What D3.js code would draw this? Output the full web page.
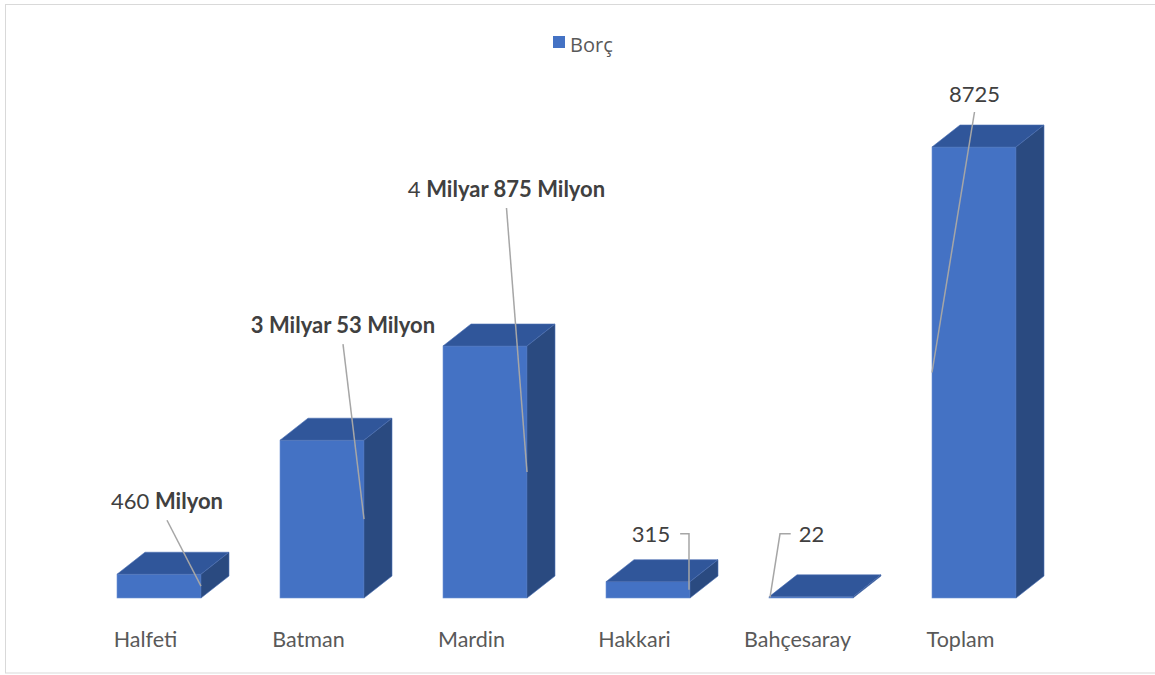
<!DOCTYPE html>
<html>
<head>
<meta charset="utf-8">
<script src="https://cdn.jsdelivr.net/npm/d3@7"></script>
<style>
  body { margin: 0; background: #fff; }
  text { font-family: Lato, "Noto Sans", sans-serif; }
</style>
</head>
<body>
<div id="vis"></div>
<script>
var W = 1155, H = 675;

// Data
var categories = ["Halfeti", "Batman", "Mardin", "Hakkari", "Bahçesaray", "Toplam"];
var values = [460, 3053, 4875, 315, 22, 8725];
// data label parts: [text, bold?]
var labelParts = [
    [["460 ", false], ["Milyon", true]],
    [["3 Milyar 53 Milyon", true]],
    [["4 ", false], ["Milyar 875 Milyon", true]],
    [["315", false]],
    [["22", false]],
    [["8725", false]]
];
var seriesName = "Borç";

// label placement relative to bar (front centre / top), leader style
var labelOffsets = [
    {dx: 8, dy: -65, leader: "right"},
    {dx: 21, dy: -107, leader: "right"},
    {dx: 21.5, dy: -149, leader: "right"},
    {dx: 3, dy: -40, leader: "elbowRight"},
    {dx: 0.5, dy: -55, leader: "elbowLeft"},
    {dx: 0.5, dy: -45, leader: "left"}
];

var depthX = 28, depthY = 22;
var front = "#4472c4", topC = "#30569a", sideC = "#2a4a80";

var svg = d3.select("#vis").append("svg")
    .attr("width", W)
    .attr("height", H);

// chart border
svg.append("rect")
    .attr("x", 5.5).attr("y", 4.5)
    .attr("width", W + 10).attr("height", 668.5)
    .attr("fill", "#fff")
    .attr("stroke", "#d9d9d9");

var x = d3.scaleBand()
    .domain(categories)
    .range([77.5, 77.5 + 6 * 163])
    .paddingInner(0.4847)
    .paddingOuter(0.24235);

var y = d3.scaleLinear()
    .domain([0, 8725])
    .range([598, 147]);

var bw = x.bandwidth();

var bars = svg.selectAll(".bar")
    .data(categories.map(function(c, i) { return {cat: c, val: values[i], i: i}; }))
    .enter().append("g")
    .attr("class", "bar");

// front face
bars.append("rect")
    .attr("x", function(d) { return x(d.cat); })
    .attr("y", function(d) { return y(d.val); })
    .attr("width", bw)
    .attr("height", function(d) { return y(0) - y(d.val); })
    .attr("fill", front)
    .attr("stroke", "#6f93d4")
    .attr("stroke-width", 0.6);

// top face
bars.append("path")
    .attr("d", function(d) {
        var x0 = x(d.cat), t = y(d.val);
        return "M" + x0 + "," + t +
            "L" + (x0 + depthX) + "," + (t - depthY) +
            "L" + (x0 + bw + depthX) + "," + (t - depthY) +
            "L" + (x0 + bw) + "," + t + "Z";
    })
    .attr("fill", topC)
    .attr("stroke", "#4a6fb3")
    .attr("stroke-width", 0.6);

// side face
bars.append("path")
    .attr("d", function(d) {
        var x1 = x(d.cat) + bw, t = y(d.val), b = y(0);
        return "M" + x1 + "," + t +
            "L" + (x1 + depthX) + "," + (t - depthY) +
            "L" + (x1 + depthX) + "," + (b - depthY) +
            "L" + x1 + "," + b + "Z";
    })
    .attr("fill", sideC)
    .attr("stroke", "#4a6fb3")
    .attr("stroke-width", 0.6);

// category labels
svg.selectAll(".cat")
    .data(categories)
    .enter().append("text")
    .attr("class", "cat")
    .attr("x", function(d) { return x(d) + bw / 2 - 13.5; })
    .attr("y", 647)
    .attr("text-anchor", "middle")
    .attr("fill", "#595959")
    .style("font-size", "21.5px")
    .text(function(d) { return d; });

// data labels + leader lines
bars.each(function(d) {
    var g = d3.select(this);
    var o = labelOffsets[d.i];
    var cx = x(d.cat) + bw / 2 + o.dx;
    var by = y(d.val) + o.dy;
    var t = g.append("text")
        .attr("x", cx)
        .attr("y", by)
        .attr("text-anchor", "middle")
        .attr("fill", "#404040")
        .style("font-size", "22px");
    labelParts[d.i].forEach(function(p) {
        t.append("tspan")
            .style("font-weight", p[1] ? "bold" : "normal")
            .text(p[0]);
    });
    var tw = t.node().getComputedTextLength();
    var midY = (y(d.val) + y(0)) / 2;
    var x0 = x(d.cat), x1 = x(d.cat) + bw;
    var pts;
    if (o.leader === "right") {
        pts = [[cx, by + 11], [x1, midY]];
    } else if (o.leader === "left") {
        pts = [[cx, by + 10], [x0, midY]];
    } else if (o.leader === "elbowRight") {
        pts = [[cx + tw / 2 + 10, by - 8], [x1 - 1, by - 8], [x1 - 1, midY]];
    } else {
        pts = [[cx - tw / 2 - 8, by - 8], [x0 + 11, by - 8], [x0 + 1, midY]];
    }
    svg.append("path")
        .attr("d", d3.line()(pts))
        .attr("fill", "none")
        .attr("stroke", "#a6a6a6")
        .attr("stroke-width", 1.5);
});

// legend
var legend = svg.append("g").attr("class", "legend");
legend.append("rect")
    .attr("x", 553).attr("y", 36)
    .attr("width", 12).attr("height", 12)
    .attr("fill", front);
legend.append("text")
    .attr("x", 570).attr("y", 52)
    .attr("fill", "#595959")
    .style("font-family", "'Open Sans', sans-serif")
    .style("font-size", "20px")
    .text(seriesName);
</script>
</body>
</html>
